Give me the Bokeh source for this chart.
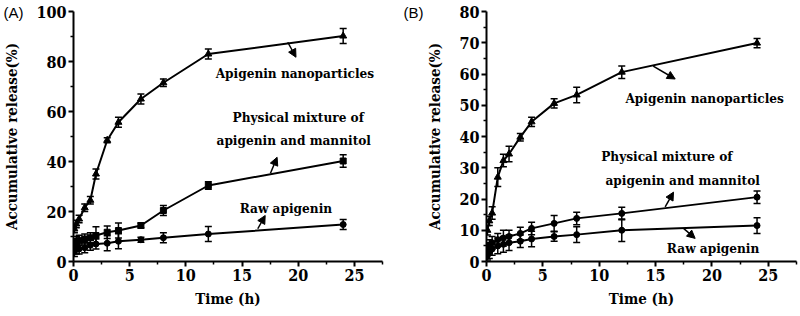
from bokeh.plotting import figure
from bokeh.layouts import row
from bokeh.models import (ColumnDataSource, Whisker, TeeHead, Arrow, NormalHead,
                          Label, FixedTicker)
from bokeh.embed import file_html
from bokeh.resources import INLINE

# ---- data ----
time_h = [0.083, 0.25, 0.5, 1, 1.5, 2, 3, 4, 6, 8, 12, 24]

nano_a = [13, 15, 17, 21.5, 24.5, 35, 48.5, 55.7, 65, 71.5, 83, 90.2]
nano_a_err = [1.5, 1.5, 1.5, 1.5, 1.5, 2, 1, 2, 2, 1.5, 2, 3]
phys_a = [7, 8, 8.5, 9, 9.5, 10.4, 11.7, 12.4, 14.4, 20.4, 30.4, 40.2]
phys_a_err = [2, 2, 2, 2, 2, 3.5, 2.5, 3, 1, 2, 1.5, 2.5]
raw_a = [4, 5, 5, 5.5, 6.5, 7, 7.3, 8.1, 8.7, 9.5, 11, 14.8]
raw_a_err = [2, 2, 2, 2, 2, 2, 3, 3, 1, 2, 3, 2]

nano_b = [10, 13, 15.5, 27, 32.3, 34.4, 39.8, 44.7, 50.6, 53.3, 60.6, 69.9]
nano_b_err = [1.5, 1.5, 2, 3, 2, 2.5, 1.2, 1.5, 1.5, 2.5, 2, 1.5]
phys_b = [4, 5, 6, 7, 7.5, 8, 9, 10.6, 12.2, 13.8, 15.4, 20.6]
phys_b_err = [2, 2, 2, 2, 2.5, 2, 2, 2, 2.5, 2, 2, 2]
raw_b = [2, 3, 4, 5, 5.5, 6, 6.5, 7.2, 8, 8.6, 10, 11.5]
raw_b_err = [1.5, 2, 2, 2.5, 2.5, 2.5, 2, 2.5, 1.5, 2.5, 3.6, 2.5]

x_ticks = [0, 5, 10, 15, 20, 25]
x_minor = [2.5, 7.5, 12.5, 17.5, 22.5, 27.5]
ya_ticks = [0, 20, 40, 60, 80, 100]
ya_minor = [10, 30, 50, 70, 90]
yb_ticks = [0, 10, 20, 30, 40, 50, 60, 70, 80]
yb_minor = [5, 15, 25, 35, 45, 55, 65, 75]

SERIF = "DejaVu Serif Condensed"
SANS = "Liberation Sans"


def make_panel(tag, ymax, yt, ym, series, labels, arrows, borders):
    left, right, top, bottom = borders
    p = figure(width=400, height=316, x_range=(0, 27.5), y_range=(0, ymax),
               output_backend="svg", toolbar_location=None,
               min_border_left=left, min_border_right=right,
               min_border_top=top, min_border_bottom=bottom,
               title=tag, title_location="above")
    p.title.text_font = SANS
    p.title.text_font_style = "normal"
    p.title.text_font_size = "15px"
    p.title.text_color = "black"
    p.title.align = "left"
    p.title.offset = -(left - 3)
    p.title.standoff = -19
    p.outline_line_color = None
    p.grid.visible = False
    p.background_fill_color = "white"
    p.border_fill_color = "white"
    p.xaxis.ticker = FixedTicker(ticks=x_ticks, minor_ticks=x_minor)
    p.yaxis.ticker = FixedTicker(ticks=yt, minor_ticks=ym)
    for ax in (p.xaxis[0], p.yaxis[0]):
        ax.axis_line_width = 2
        ax.major_tick_line_width = 2
        ax.minor_tick_line_width = 1.5
        ax.major_tick_in = 0
        ax.major_tick_out = 5
        ax.minor_tick_in = 0
        ax.minor_tick_out = 3
        ax.major_label_text_font = SERIF
        ax.major_label_text_font_style = "bold"
        ax.major_label_text_font_size = "16px"
        ax.major_label_text_color = "black"
        ax.axis_label_text_font = SERIF
        ax.axis_label_text_font_style = "bold"
        ax.axis_label_text_font_size = "15px"
        ax.axis_label_text_color = "black"
    p.xaxis.axis_label = "Time (h)"
    p.yaxis.axis_label = "Accumulative release(%)"
    p.xaxis.major_label_standoff = 2
    p.yaxis.major_label_standoff = 2
    p.xaxis.axis_label_standoff = 6
    p.yaxis.axis_label_standoff = 12

    for vals, errs, marker, msize in series:
        src = ColumnDataSource(dict(
            x=time_h, y=vals,
            lo=[v - e for v, e in zip(vals, errs)],
            hi=[v + e for v, e in zip(vals, errs)]))
        p.line("x", "y", source=src, line_color="black", line_width=2)
        p.add_layout(Whisker(source=src, base="x", upper="hi", lower="lo",
                             line_color="black", line_width=1.5,
                             upper_head=TeeHead(size=7, line_width=1.5, line_color="black"),
                             lower_head=TeeHead(size=7, line_width=1.5, line_color="black")))
        p.scatter("x", "y", source=src, marker=marker, size=msize,
                  fill_color="black", line_color="black")

    for txt, x, y in labels:
        p.add_layout(Label(x=x, y=y, text=txt, text_font=SERIF,
                           text_font_style="bold", text_font_size="13.5px",
                           text_align="center", text_baseline="middle",
                           text_color="black"))

    for x0, y0, x1, y1 in arrows:
        p.add_layout(Arrow(x_start=x0, y_start=y0, x_end=x1, y_end=y1,
                           line_color="black", line_width=1.5,
                           end=NormalHead(size=8, fill_color="black",
                                          line_color="black")))
    return p


pa = make_panel(
    "(A)", 100, ya_ticks, ya_minor,
    [(nano_a, nano_a_err, "triangle", 7),
     (phys_a, phys_a_err, "square", 6),
     (raw_a, raw_a_err, "circle", 6)],
    [("Apigenin nanoparticles", 19.7, 75.6),
     ("Physical mixture of", 20.0, 58),
     ("apigenin and mannitol", 19.6, 48.8),
     ("Raw apigenin", 18.9, 21.6)],
    [(19.07, 87.7, 19.8, 81.7),
     (17.53, 35.3, 18.12, 41.7),
     (16.4, 13.1, 17.06, 18.4)],
    (73, 18, 11, 55))

pb = make_panel(
    "(B)", 80, yb_ticks, yb_minor,
    [(nano_b, nano_b_err, "triangle", 7),
     (phys_b, phys_b_err, "circle", 6),
     (raw_b, raw_b_err, "circle", 6)],
    [("Apigenin nanoparticles", 19.35, 52.4),
     ("Physical mixture of", 16.0, 33.9),
     ("apigenin and mannitol", 17.4, 26.0),
     ("Raw apigenin", 20.1, 4.4)],
    [(14.79, 62.5, 16.74, 58.4),
     (15.85, 17.5, 16.59, 22.2),
     (17.48, 10.6, 18.51, 7.4)],
    (86, 4, 11, 54))

layout = row(pa, pb)
open("out.html", "w").write(file_html(layout, INLINE))
